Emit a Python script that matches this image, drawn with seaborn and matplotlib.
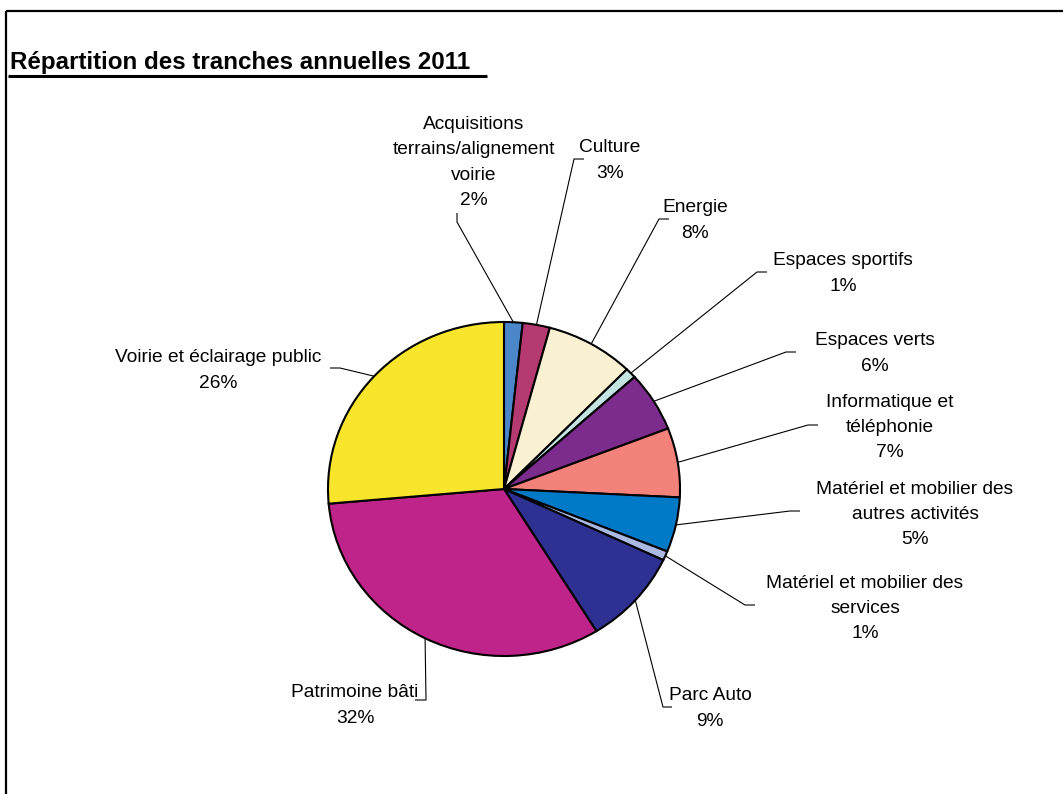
import matplotlib
matplotlib.use("Agg")
import matplotlib.pyplot as plt
import seaborn as sns
import numpy as np

# Budget share of each investment programme (percent of the 2011 annual tranches)
categories = [
    "Acquisitions terrains/alignement voirie",
    "Culture",
    "Energie",
    "Espaces sportifs",
    "Espaces verts",
    "Informatique et téléphonie",
    "Matériel et mobilier des autres activités",
    "Matériel et mobilier des services",
    "Parc Auto",
    "Patrimoine bâti",
    "Voirie et éclairage public",
]
shares = [1.7, 2.5, 8.1, 1.0, 5.8, 6.7, 5.3, 0.9, 9.2, 32.4, 26.4]

# Wrapped label text for each slice
label_names = [
    "Acquisitions\nterrains/alignement\nvoirie",
    "Culture",
    "Energie",
    "Espaces sportifs",
    "Espaces verts",
    "Informatique et\ntéléphonie",
    "Matériel et mobilier des\nautres activités",
    "Matériel et mobilier des\nservices",
    "Parc Auto",
    "Patrimoine bâti",
    "Voirie et éclairage public",
]

slice_colors = [
    "#4A86C8", "#B63A72", "#FAF1D2", "#C4E4E2", "#7B2C8C", "#F3837A",
    "#0079C6", "#A9B9E2", "#2E3192", "#BE2489", "#F8E52C",
]

# Label placement in figure pixels (top-left origin):
# text centre, leader elbow, leader end next to the text
label_pos = [(474, 162.5), (610, 160.5), (695, 220.5), (843, 273.5), (875, 353.5),
             (890, 427.5), (915, 514.5), (865, 608.5), (710, 708.5), (355, 705.5),
             (218, 370.5)]
leader_elbow = [(457, 222), (574, 159), (659, 219), (757, 272), (786, 352),
                (808, 425), (790, 511), (745, 605), (663, 707), (426, 700), (340, 368)]
leader_end = [(457, 213), (584, 159), (669, 219), (767, 272), (796, 352),
              (818, 425), (800, 511), (755, 605), (672, 707), (415, 700), (330, 368)]

sns.set_theme(style="white")
plt.rcParams["font.family"] = ["Liberation Sans", "DejaVu Sans"]

W, H, DPI = 1063, 794, 100
fig = plt.figure(figsize=(W / DPI, H / DPI), dpi=DPI)
fig.patch.set_facecolor("white")

# Pie occupies a slightly wide box, giving the flattened look
pie_box = (328, 322, 680, 656)  # left, top, right, bottom in pixels
ax = fig.add_axes([pie_box[0] / W, 1 - pie_box[3] / H,
                   (pie_box[2] - pie_box[0]) / W, (pie_box[3] - pie_box[1]) / H])
wedges, _ = ax.pie(shares, colors=slice_colors, startangle=90, counterclock=False,
                   wedgeprops=dict(edgecolor="black", linewidth=1.5))
ax.set_aspect("auto")
ax.set_xlim(-1, 1)
ax.set_ylim(-1, 1)
ax.axis("off")

# Overlay in pixel coordinates for labels, leaders and frame
ov = fig.add_axes([0, 0, 1, 1])
ov.set_xlim(0, W)
ov.set_ylim(H, 0)
ov.patch.set_alpha(0)
ov.axis("off")

total = sum(shares)
for w, name, pos, elbow, end, v in zip(wedges, label_names, label_pos,
                                        leader_elbow, leader_end, shares):
    mid = np.deg2rad((w.theta1 + w.theta2) / 2)
    dx, dy = ax.transData.transform((np.cos(mid), np.sin(mid)))
    anchor = (dx, H - dy)
    ov.plot([anchor[0], elbow[0], end[0]], [anchor[1], elbow[1], end[1]],
            color="black", lw=0.8, solid_capstyle="butt")
    pct = int(100 * v / total + 0.5 + 1e-9)
    ov.text(pos[0], pos[1], f"{name}\n{pct}%", ha="center", va="center",
            fontsize=13.8, linespacing=1.64, color="black")

# Title with underline
ov.text(10, 69.5, "Répartition des tranches annuelles 2011", ha="left",
        va="baseline", fontsize=17.4, fontweight="bold", color="black")
ov.plot([8, 487], [75.5, 75.5], color="black", lw=2.2, solid_capstyle="butt")

# Chart frame (top and left edges)
ov.plot([6, W], [10.5, 10.5], color="black", lw=1.6, solid_capstyle="butt")
ov.plot([6, 6], [10.5, H], color="black", lw=1.6, solid_capstyle="butt")

fig.savefig("out.png", dpi=DPI, facecolor="white")
